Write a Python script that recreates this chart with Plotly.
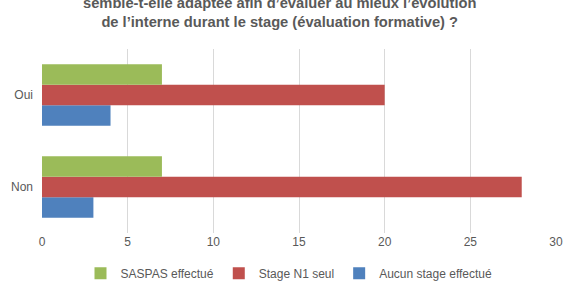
import plotly.graph_objects as go

categories = ["Non", "Oui"]
series_names = ["Aucun stage effectué", "Stage N1 seul", "SASPAS effectué"]
aucun = [3, 4]
stage_n1 = [28, 20]
saspas = [7, 7]
x_ticks = [0, 5, 10, 15, 20, 25, 30]
title_lines = [
    "semble-t-elle adaptée afin d’évaluer au mieux l’évolution",
    "de l’interne durant le stage (évaluation formative) ?",
]

colors = ["#4F81BD", "#C0504D", "#9BBB59"]
values = [aucun, stage_n1, saspas]
ranks = [3, 2, 1]

fig = go.Figure()
for name, vals, col, rk in zip(series_names, values, colors, ranks):
    fig.add_trace(go.Bar(
        y=categories, x=vals, name=name, orientation="h",
        marker=dict(color=col, line=dict(width=0)), legendrank=rk,
    ))

txt = "#595959"
fig.update_layout(
    width=564, height=301,
    margin=dict(l=42, r=8, t=49, b=68),
    paper_bgcolor="white", plot_bgcolor="white",
    barmode="group", bargap=0.33, bargroupgap=0,
    font=dict(family="Liberation Sans, Arial, sans-serif", size=12, color=txt),
    showlegend=True,
    legend=dict(orientation="h", x=0.5 - 10 / 514, xanchor="center", y=-0.14, yanchor="top",
                font=dict(size=12, color=txt), traceorder="normal"),
    xaxis=dict(range=[0, 30], tickvals=x_ticks, showgrid=True, gridcolor="#D9D9D9",
               gridwidth=1, zeroline=False, showline=False, ticks="", automargin=False,
               tickfont=dict(size=12, color=txt)),
    yaxis=dict(categoryorder="array", categoryarray=categories, showgrid=False,
               zeroline=False, showline=False, ticks="", ticklabelstandoff=8,
               automargin=False, tickfont=dict(size=12, color=txt)),
    annotations=[dict(
        text="<b>" + "<br>".join(title_lines) + "</b>",
        xref="paper", yref="paper", x=0.5, y=1.0,
        xanchor="center", yanchor="bottom", yshift=17, xshift=-20, showarrow=False,
        font=dict(size=14.7, color=txt, family="Liberation Sans, Arial, sans-serif"),
    )],
)

fig.write_html("out.html")
